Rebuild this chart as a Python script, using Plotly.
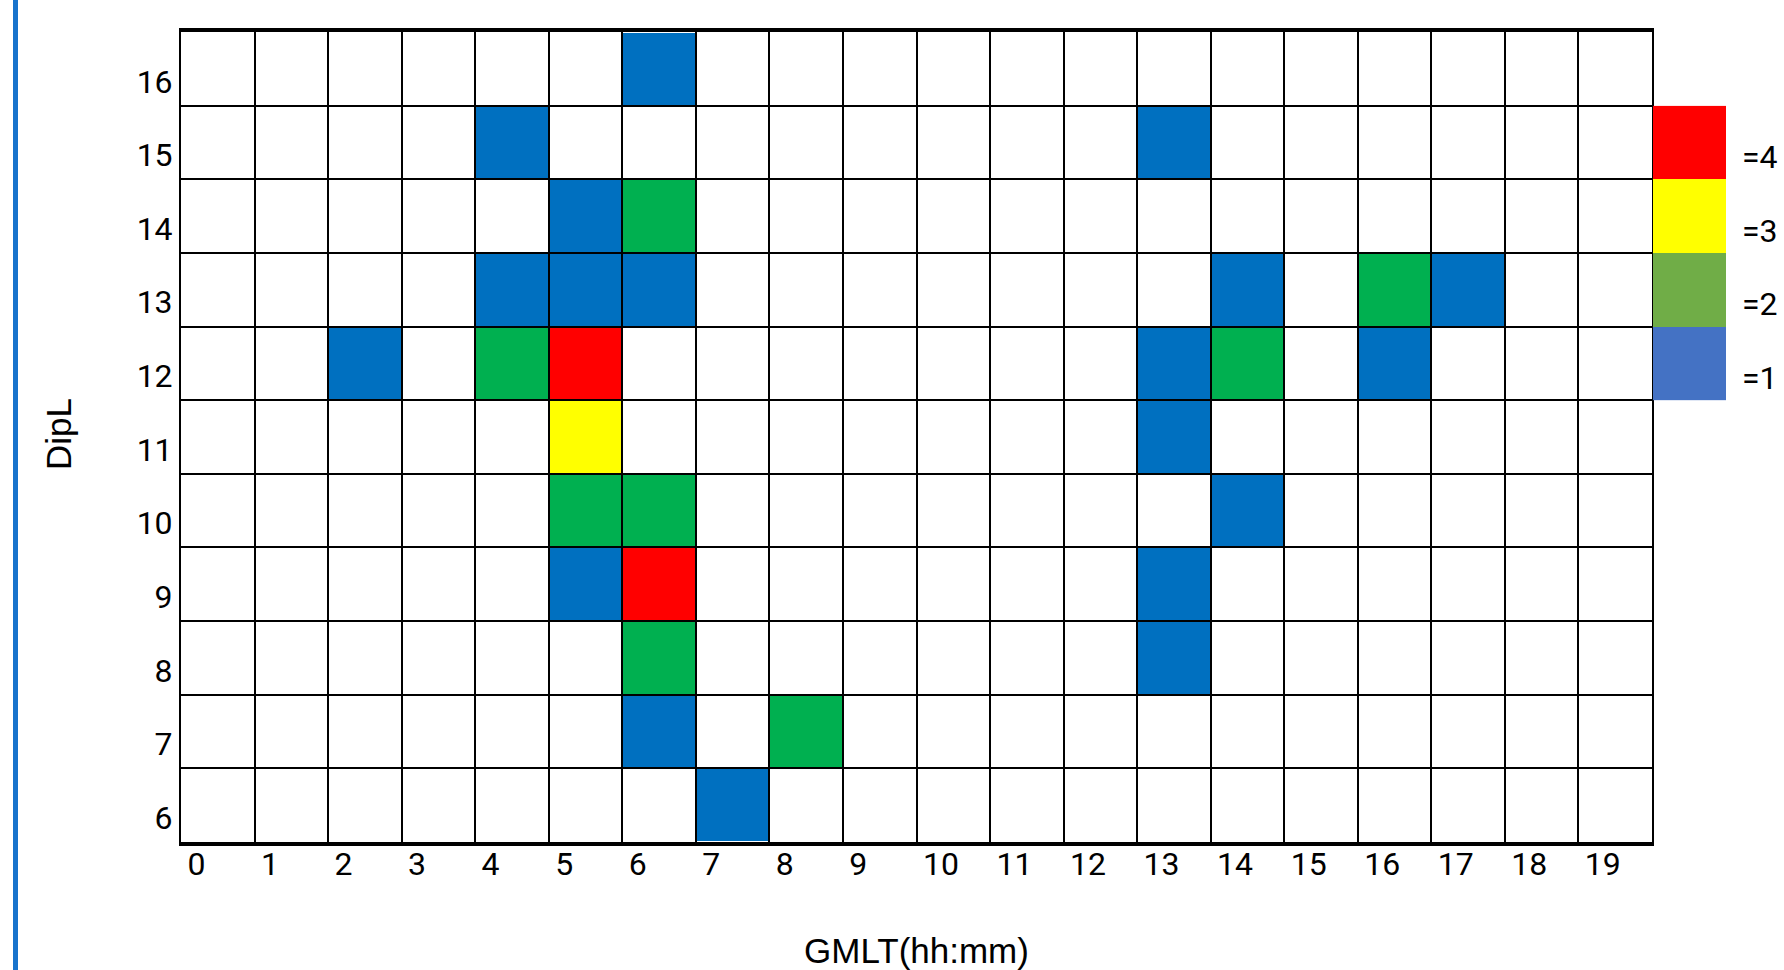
import plotly.graph_objects as go

# ---- data -------------------------------------------------------------
gmlt_hours = list(range(20))            # x categories (cell left edges)
dipl_values = list(range(6, 17))        # y categories (cell bottom edges)

# occurrence counts, one row per DipL (listed from 16 down to 6), 20 GMLT columns
counts_by_dipl = {
    16: [0, 0, 0, 0, 0, 0, 1, 0, 0, 0, 0, 0, 0, 0, 0, 0, 0, 0, 0, 0],
    15: [0, 0, 0, 0, 1, 0, 0, 0, 0, 0, 0, 0, 0, 1, 0, 0, 0, 0, 0, 0],
    14: [0, 0, 0, 0, 0, 1, 2, 0, 0, 0, 0, 0, 0, 0, 0, 0, 0, 0, 0, 0],
    13: [0, 0, 0, 0, 1, 1, 1, 0, 0, 0, 0, 0, 0, 0, 1, 0, 2, 1, 0, 0],
    12: [0, 0, 1, 0, 2, 4, 0, 0, 0, 0, 0, 0, 0, 1, 2, 0, 1, 0, 0, 0],
    11: [0, 0, 0, 0, 0, 3, 0, 0, 0, 0, 0, 0, 0, 1, 0, 0, 0, 0, 0, 0],
    10: [0, 0, 0, 0, 0, 2, 2, 0, 0, 0, 0, 0, 0, 0, 1, 0, 0, 0, 0, 0],
    9:  [0, 0, 0, 0, 0, 1, 4, 0, 0, 0, 0, 0, 0, 1, 0, 0, 0, 0, 0, 0],
    8:  [0, 0, 0, 0, 0, 0, 2, 0, 0, 0, 0, 0, 0, 1, 0, 0, 0, 0, 0, 0],
    7:  [0, 0, 0, 0, 0, 0, 1, 0, 2, 0, 0, 0, 0, 0, 0, 0, 0, 0, 0, 0],
    6:  [0, 0, 0, 0, 0, 0, 0, 1, 0, 0, 0, 0, 0, 0, 0, 0, 0, 0, 0, 0],
}
legend_levels = [1, 2, 3, 4]
legend_texts = ["=1", "=2", "=3", "=4"]

cell_colors = {1: "#0070C0", 2: "#00B050", 3: "#FFFF00", 4: "#FF0000"}
legend_colors = {1: "#4472C4", 2: "#70AD47", 3: "#FFFF00", 4: "#FF0000"}

# ---- figure -----------------------------------------------------------
W, H = 1784, 970
px0, px1 = 181 / W, 1652 / W
py0, py1 = 1 - 842 / H, 1 - 32 / H
ymin, ymax = dipl_values[0], dipl_values[-1] + 1
leg_y0 = py0 + (py1 - py0) * (12 - ymin) / (ymax - ymin)
leg_y1 = py0 + (py1 - py0) * (16 - ymin) / (ymax - ymin)


def discrete_scale(cmap):
    n = len(cmap)
    sc = []
    for i, k in enumerate(sorted(cmap)):
        sc.append([i / n, cmap[k]])
        sc.append([(i + 1) / n, cmap[k]])
    return sc


z = [[(v if v > 0 else None) for v in counts_by_dipl[d]] for d in dipl_values]

fig = go.Figure()
fig.add_trace(go.Heatmap(
    x=[h + 0.5 for h in gmlt_hours],
    y=[d + 0.5 for d in dipl_values],
    z=z,
    zmin=0.5, zmax=4.5,
    colorscale=discrete_scale(cell_colors),
    showscale=False, xgap=2, ygap=2, hoverinfo="skip",
))
fig.add_trace(go.Heatmap(
    x=[0.5],
    y=[l + 11.5 for l in legend_levels],
    z=[[l] for l in legend_levels],
    zmin=0.5, zmax=4.5,
    colorscale=discrete_scale(legend_colors),
    showscale=False, hoverinfo="skip",
    xaxis="x2", yaxis="y2",
))

tick_font = dict(family="Roboto", size=32, color="black")

fig.update_layout(
    width=W, height=H,
    margin=dict(l=0, r=0, t=0, b=0),
    template="none",
    paper_bgcolor="white", plot_bgcolor="white",
    showlegend=False,
    xaxis=dict(
        domain=[px0, px1], range=[0, 20], automargin=False,
        tickvals=[h + 0.06 for h in gmlt_hours], ticktext=[str(h) for h in gmlt_hours],
        ticklabelposition="outside right", ticklabelstandoff=-9,
        ticks="", showgrid=False, zeroline=False,
        minor=dict(dtick=1, tick0=0, showgrid=True, gridcolor="black", gridwidth=2, ticks=""),
        showline=True, mirror=True, linecolor="black", linewidth=4,
        tickfont=tick_font,
    ),
    yaxis=dict(
        domain=[py0, py1], range=[ymin, ymax], automargin=False,
        tickvals=[d + 0.33 for d in dipl_values], ticktext=[str(d) for d in dipl_values],
        ticks="", showgrid=False, zeroline=False,
        minor=dict(dtick=1, tick0=0, showgrid=True, gridcolor="black", gridwidth=2, ticks=""),
        showline=True, mirror=True, linecolor="black", linewidth=2,
        tickfont=tick_font,
    ),
    xaxis2=dict(domain=[1653 / W, 1726 / W], range=[0, 1], anchor="y2", visible=False),
    yaxis2=dict(domain=[leg_y0, leg_y1], range=[12, 16], anchor="x2", visible=False),
)

for lvl, txt in zip(legend_levels, legend_texts):
    fig.add_annotation(x=1740 / W, y=lvl + 11.3, xref="paper", yref="y2", text=txt,
                       showarrow=False, xanchor="left", yanchor="middle",
                       font=dict(family="Roboto", size=32, color="black"))

fig.add_annotation(x=917 / W, y=1 - 950 / H, xref="paper", yref="paper",
                   text="GMLT(hh:mm)", showarrow=False, xanchor="center", yanchor="middle",
                   font=dict(family="Liberation Sans", size=35, color="black"))
fig.add_annotation(x=59 / W, y=1 - 434 / H, xref="paper", yref="paper",
                   text="DipL", textangle=-90, showarrow=False,
                   xanchor="center", yanchor="middle",
                   font=dict(family="Liberation Sans", size=35, color="black"))

# left decorative blue rule
fig.add_shape(type="line", xref="paper", yref="paper", x0=15.5 / W, x1=15.5 / W, y0=0, y1=1,
              line=dict(color="#1873CC", width=5))

fig.write_html("out.html")
